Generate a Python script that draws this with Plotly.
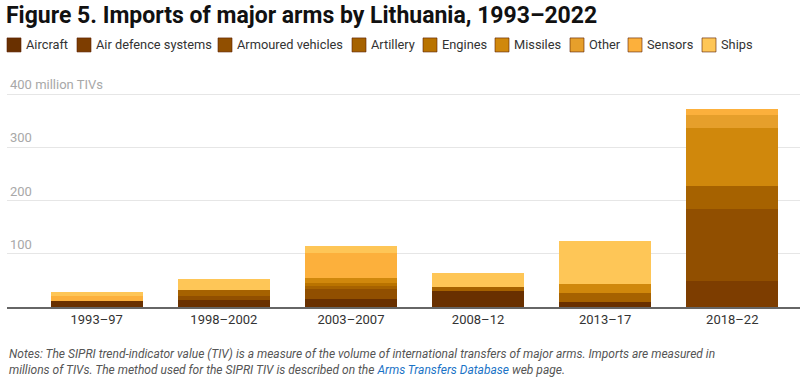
import plotly.graph_objects as go

periods = ["1993–97", "1998–2002", "2003–2007", "2008–12", "2013–17", "2018–22"]
categories = ["Aircraft", "Air defence systems", "Armoured vehicles", "Artillery",
              "Engines", "Missiles", "Other", "Sensors", "Ships"]
aircraft = [11.5, 14, 15, 31, 9.5, 0]
air_defence = [0, 0, 0, 0, 0, 48]
armoured = [0, 7.5, 19, 0, 0, 136]
artillery = [0, 11, 6, 6.5, 17.5, 43]
engines = [0, 0, 6, 0, 0, 0]
missiles = [0, 0, 8, 0, 17, 109]
other = [0, 0, 0, 0, 0, 25.5]
sensors = [10, 0, 47.5, 0, 0, 10.5]
ships = [6.5, 20, 12.5, 26, 81, 0]
series = [aircraft, air_defence, armoured, artillery, engines, missiles, other, sensors, ships]
colors = ["#693000", "#7d3d00", "#914f00", "#a66200", "#b97300",
          "#d0880c", "#e69f2b", "#fcb03c", "#fec657"]
y_ticks = [100, 200, 300, 400]
y_tick_labels = ["100", "200", "300", "400 million TIVs"]

fig = go.Figure()
for name, vals, col in zip(categories, series, colors):
    fig.add_trace(go.Bar(x=periods, y=vals, name=name, marker=dict(color=col, line=dict(width=0)),
                         showlegend=False))

# manual legend (swatch left edges in px)
legend_x = [7, 77, 218, 352, 423, 495, 570, 628, 702]
for name, col, lx in zip(categories, colors, legend_x):
    fig.add_shape(type="rect", xref="paper", yref="paper",
                  x0=(lx - 7) / 793, x1=(lx + 7) / 793,
                  y0=(306.7 - 52) / 217.7, y1=(306.7 - 38) / 217.7,
                  fillcolor=col, line=dict(color="rgba(90,30,0,0.6)", width=1), layer="above")
    fig.add_annotation(x=(lx + 10) / 793, y=(306.7 - 45) / 217.7, xref="paper", yref="paper",
                       text=name, showarrow=False, xanchor="left", yanchor="middle",
                       font=dict(family="Roboto", size=12.8, color="#333333"))

for v, lab in zip(y_ticks, y_tick_labels):
    fig.add_annotation(x=0.001, y=v, xref="paper", yref="y", text=lab, showarrow=False,
                       xanchor="left", yanchor="bottom", yshift=0,
                       font=dict(family="Roboto", size=13, color="#a8a8a8"))

fig.add_annotation(x=-3 / 793, y=(306.7 - 16) / 217.7, xref="paper", yref="paper",
                   text="<b>Figure 5. Imports of major arms by Lithuania, 1993–2022</b>",
                   showarrow=False, xanchor="left", yanchor="middle",
                   font=dict(family="Roboto", size=23, color="#111111"))

note = ("<i>Notes: The SIPRI trend-indicator value (TIV) is a measure of the volume of international transfers of major arms. Imports are measured in<br>"
        "millions of TIVs. The method used for the SIPRI TIV is described on the "
        "<span style='color:#1a73c6'>Arms Transfers Database</span> web page.</i>")
fig.add_annotation(x=0.0, y=(306.7 - 362) / 217.7, xref="paper", yref="paper", text=note,
                   showarrow=False, xanchor="left", yanchor="middle", align="left",
                   font=dict(family="Roboto", size=12, color="#555555"))

fig.update_layout(
    barmode="stack", bargap=0.276,
    width=800, height=380,
    margin=dict(l=7, r=0, t=89, b=73.3),
    plot_bgcolor="white", paper_bgcolor="white",
    xaxis=dict(range=[-0.7056, 5.5326], showgrid=False, ticks="", showline=True,
               linecolor="#666666", linewidth=1.5,
               tickfont=dict(family="Roboto", size=13, color="#333333")),
    yaxis=dict(range=[0, 410], tickvals=y_ticks, showticklabels=False, gridcolor="#e6e6e6",
               gridwidth=1, zeroline=False, fixedrange=True),
    font=dict(family="Roboto"),
)

fig.write_html("out.html", config={"displayModeBar": False},
               post_script="document.body.style.margin='0';")
